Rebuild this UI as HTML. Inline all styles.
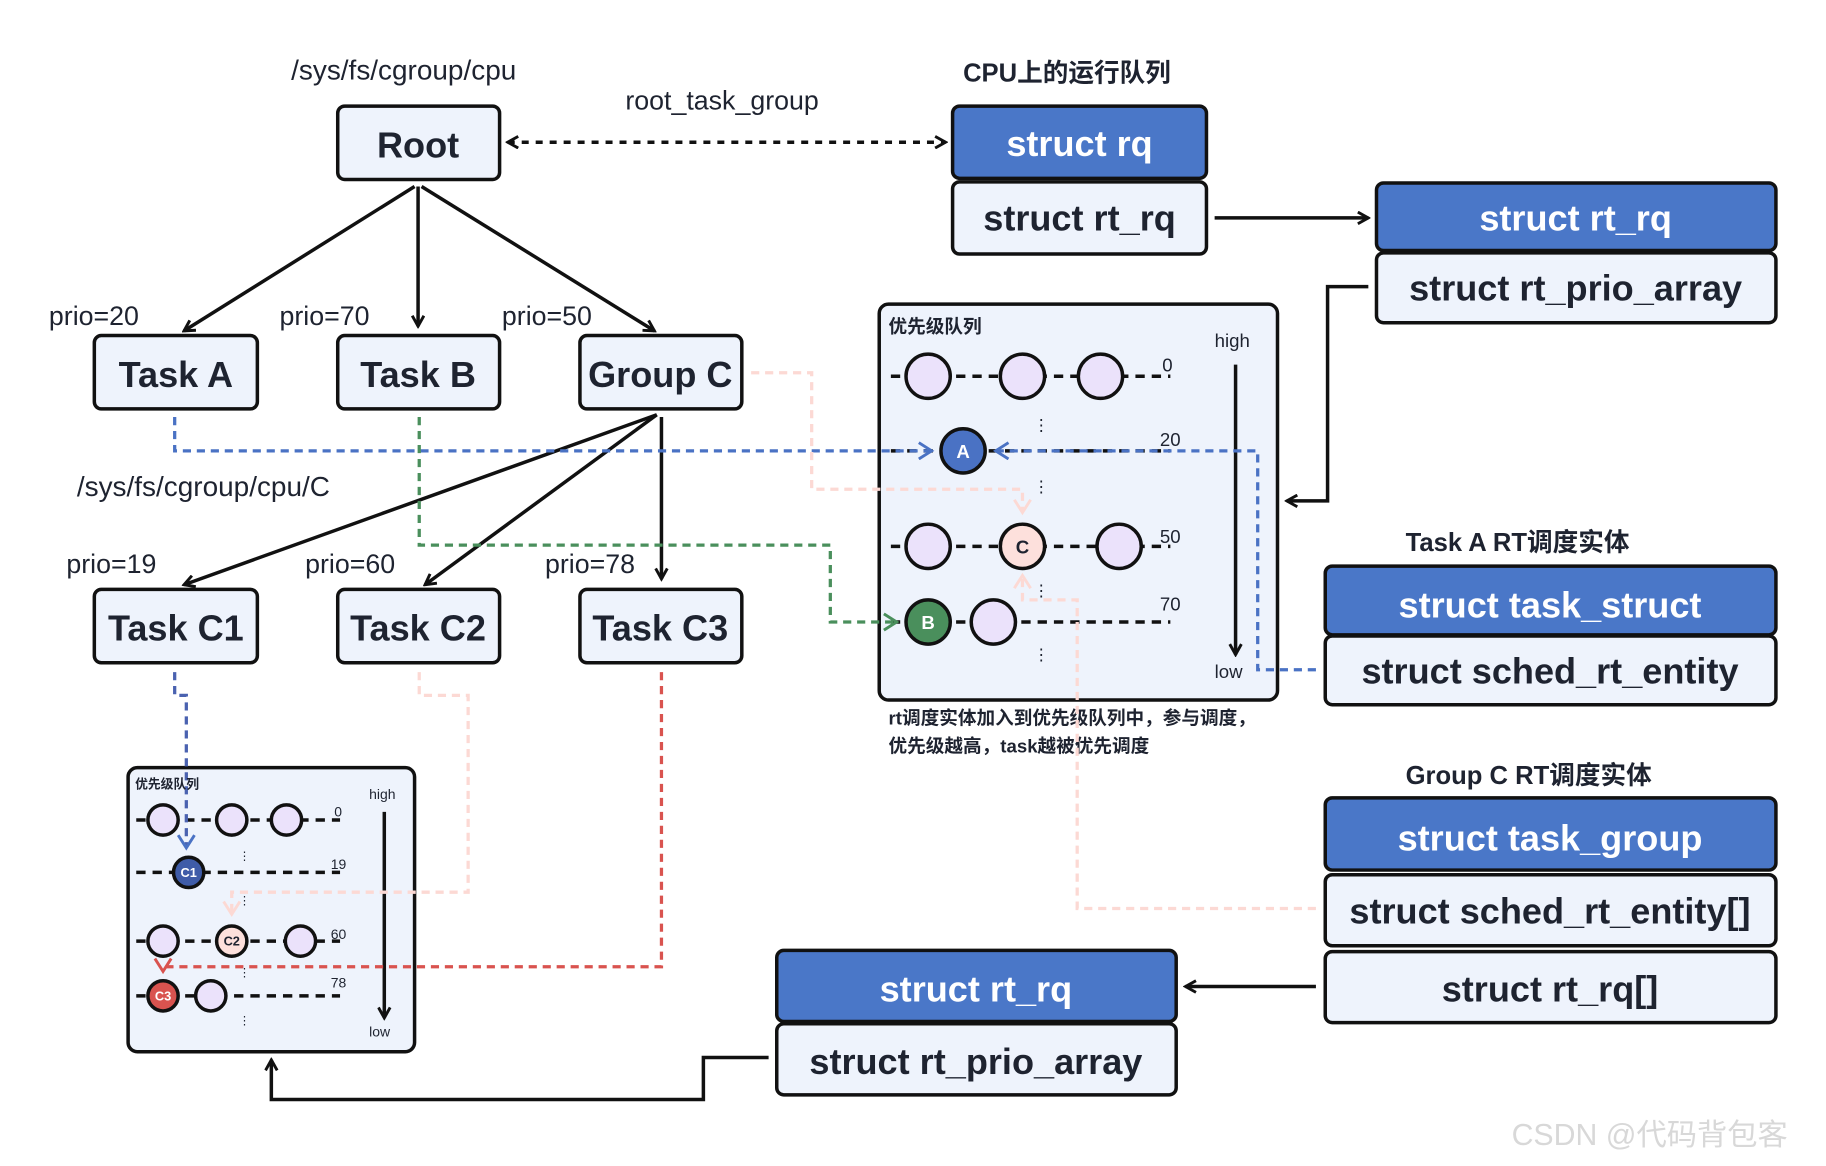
<!DOCTYPE html>
<html><head><meta charset="utf-8"><style>
html,body{margin:0;padding:0;background:#fff;}
svg{display:block}
text{font-family:"Liberation Sans","Noto Sans CJK SC",sans-serif;fill:#1e2330;}
</style></head><body>
<svg width="1826" height="1166" viewBox="0 0 1568 1001" xmlns="http://www.w3.org/2000/svg">
<defs>
<marker id="ab" markerWidth="12" markerHeight="12" refX="10" refY="6" orient="auto" markerUnits="userSpaceOnUse"><path d="M1,1 L10,6 L1,11" fill="none" stroke="#111" stroke-width="2.5"/></marker>
<marker id="abs" markerWidth="12" markerHeight="12" refX="10" refY="6" orient="auto-start-reverse" markerUnits="userSpaceOnUse"><path d="M1,1 L10,6 L1,11" fill="none" stroke="#111" stroke-width="2.5"/></marker>
<marker id="abl" markerWidth="16" markerHeight="16" refX="13" refY="8" orient="auto" markerUnits="userSpaceOnUse"><path d="M2,1 L13,8 L2,15" fill="none" stroke="#4a72c4" stroke-width="2.5"/></marker>
<marker id="agr" markerWidth="16" markerHeight="16" refX="13" refY="8" orient="auto" markerUnits="userSpaceOnUse"><path d="M2,1 L13,8 L2,15" fill="none" stroke="#4a8f5c" stroke-width="2.5"/></marker>
<marker id="apk" markerWidth="16" markerHeight="16" refX="13" refY="8" orient="auto" markerUnits="userSpaceOnUse"><path d="M2,1 L13,8 L2,15" fill="none" stroke="#fcd9d4" stroke-width="2.5"/></marker>
<marker id="ard" markerWidth="16" markerHeight="16" refX="13" refY="8" orient="auto" markerUnits="userSpaceOnUse"><path d="M2,1 L13,8 L2,15" fill="none" stroke="#d9534f" stroke-width="2.5"/></marker>
</defs>
<g font-weight="bold">
<text x="250" y="68" font-size="24" font-weight="normal">/sys/fs/cgroup/cpu</text>
<text x="537" y="94" font-size="23" font-weight="normal">root_task_group</text>
<text x="827" y="70" font-size="22">CPU上的运行队列</text>
</g>
<g stroke="#111" stroke-width="3" fill="#eef3fc">
<rect x="290" y="91" width="139" height="63" rx="6"/>
<rect x="81" y="288" width="140" height="63" rx="6"/>
<rect x="290" y="288" width="139" height="63" rx="6"/>
<rect x="498" y="288" width="139" height="63" rx="6"/>
<rect x="81" y="506" width="140" height="63" rx="6"/>
<rect x="290" y="506" width="139" height="63" rx="6"/>
<rect x="498" y="506" width="139" height="63" rx="6"/>
<rect x="818" y="91" width="218" height="62" rx="6" fill="#4a77c8"/>
<rect x="818" y="156" width="218" height="62" rx="6"/>
<rect x="1182" y="157" width="343" height="58" rx="6" fill="#4a77c8"/>
<rect x="1182" y="217" width="343" height="60" rx="6"/>
<rect x="1138" y="486" width="387" height="59" rx="6" fill="#4a77c8"/>
<rect x="1138" y="546" width="387" height="59" rx="6"/>
<rect x="1138" y="685" width="387" height="62" rx="6" fill="#4a77c8"/>
<rect x="1138" y="751" width="387" height="61" rx="6"/>
<rect x="1138" y="817" width="387" height="61" rx="6"/>
<rect x="667" y="816" width="343" height="61" rx="6" fill="#4a77c8"/>
<rect x="667" y="879" width="343" height="61" rx="6"/>
<rect x="755" y="261" width="342" height="340" rx="8"/>
<rect x="110" y="659" width="246" height="244" rx="8"/>
</g>
<g font-size="31" text-anchor="middle" font-weight="bold">
<text x="359" y="135">Root</text>
<text x="151" y="332">Task A</text>
<text x="359" y="332">Task B</text>
<text x="567" y="332">Group C</text>
<text x="151" y="550">Task C1</text>
<text x="359" y="550">Task C2</text>
<text x="567" y="550">Task C3</text>
<text x="927" y="134" style="fill:#fff">struct rq</text>
<text x="927" y="198">struct rt_rq</text>
<text x="1353" y="198" style="fill:#fff">struct rt_rq</text>
<text x="1353" y="258">struct rt_prio_array</text>
<text x="1331" y="530" style="fill:#fff">struct task_struct</text>
<text x="1331" y="587">struct sched_rt_entity</text>
<text x="1331" y="730" style="fill:#fff">struct task_group</text>
<text x="1331" y="793">struct sched_rt_entity[]</text>
<text x="1331" y="860">struct rt_rq[]</text>
<text x="838" y="860" style="fill:#fff">struct rt_rq</text>
<text x="838" y="922">struct rt_prio_array</text>
</g>
<g font-size="23">
<text x="42" y="279">prio=20</text>
<text x="240" y="279">prio=70</text>
<text x="431" y="279">prio=50</text>
<text x="57" y="492">prio=19</text>
<text x="262" y="492">prio=60</text>
<text x="468" y="492">prio=78</text>
<text x="66" y="426" font-size="24">/sys/fs/cgroup/cpu/C</text>
<text x="1207" y="473" font-weight="bold" font-size="22">Task A RT调度实体</text>
<text x="1207" y="673" font-weight="bold" font-size="22">Group C RT调度实体</text>
</g>
<g stroke="#111" stroke-width="3" fill="none">
<line x1="436" y1="122" x2="812" y2="122" stroke-dasharray="6,6" marker-end="url(#ab)" marker-start="url(#abs)"/>
<line x1="356" y1="160" x2="158" y2="284" marker-end="url(#ab)"/>
<line x1="359" y1="160" x2="359" y2="280" marker-end="url(#ab)"/>
<line x1="362" y1="160" x2="562" y2="284" marker-end="url(#ab)"/>
<line x1="564" y1="356" x2="158" y2="502" marker-end="url(#ab)"/>
<line x1="564" y1="356" x2="365" y2="502" marker-end="url(#ab)"/>
<line x1="568" y1="358" x2="568" y2="497" marker-end="url(#ab)"/>
<line x1="1043" y1="187" x2="1175" y2="187" marker-end="url(#ab)"/>
<polyline points="1175,246 1140,246 1140,430 1105,430" marker-end="url(#ab)"/>
<line x1="1130" y1="847" x2="1018" y2="847" marker-end="url(#ab)"/>
<polyline points="660,908 604,908 604,944 233,944 233,910" marker-end="url(#ab)"/>
<line x1="1061" y1="313" x2="1061" y2="562" marker-end="url(#ab)"/>
<line x1="330" y1="697" x2="330" y2="874" marker-end="url(#ab)"/>
</g>
<g font-size="16">
<text x="763" y="286" font-weight="bold">优先级队列</text>
<text x="1043" y="298">high</text>
<text x="1043" y="582">low</text>
<text x="998" y="319">0</text>
<text x="996" y="383">20</text>
<text x="996" y="466">50</text>
<text x="996" y="524">70</text>
<text x="763" y="622" font-weight="bold">rt调度实体加入到优先级队列中，参与调度，</text>
<text x="763" y="646" font-weight="bold">优先级越高，task越被优先调度</text>
</g>
<g stroke="#111" stroke-width="3" stroke-dasharray="8,6" fill="none">
<line x1="765" y1="323" x2="1005" y2="323"/>
<line x1="765" y1="387" x2="1005" y2="387"/>
<line x1="765" y1="469" x2="1005" y2="469"/>
<line x1="765" y1="534" x2="1005" y2="534"/>
<line x1="117" y1="704" x2="292" y2="704"/>
<line x1="117" y1="749" x2="292" y2="749"/>
<line x1="117" y1="808" x2="292" y2="808"/>
<line x1="117" y1="855" x2="292" y2="855"/>
</g>
<g fill="#888" font-size="14" text-anchor="middle">
<text x="894" y="370">⋮</text><text x="894" y="423">⋮</text><text x="894" y="512">⋮</text><text x="894" y="567">⋮</text>
<text x="210" y="738" font-size="10">⋮</text><text x="210" y="776" font-size="10">⋮</text><text x="210" y="838" font-size="10">⋮</text><text x="210" y="879" font-size="10">⋮</text>
</g>
<g fill="none" stroke-width="2.8" stroke-dasharray="7,5">
<polyline points="150,358 150,387 800,387" stroke="#4a72c4" marker-end="url(#abl)"/>
<polyline points="1130,575 1080,575 1080,387 855,387" stroke="#4a72c4" marker-end="url(#abl)"/>
<polyline points="360,358 360,468 713,468 713,534 770,534" stroke="#4a8f5c" marker-end="url(#agr)"/>
<polyline points="645,320 697,320 697,420 878,420 878,440" stroke="#fcd9d4" marker-end="url(#apk)"/>
<polyline points="1130,780 925,780 925,515 878,515 878,494" stroke="#fcd9d4" marker-end="url(#apk)"/>
<polyline points="150,577 150,597 160,597 160,728" stroke="#4a62b0" marker-end="url(#abl)"/>
<polyline points="360,577 360,597 402,597 402,766 199,766 199,785" stroke="#fcd9d4" marker-end="url(#apk)"/>
<polyline points="568,577 568,830 140,830 140,834" stroke="#d9534f" marker-end="url(#ard)"/>
</g>
<g stroke="#111" stroke-width="3" fill="#ebe2fb">
<circle cx="797" cy="323" r="19"/><circle cx="878" cy="323" r="19"/><circle cx="945" cy="323" r="19"/>
<circle cx="827" cy="387" r="19" fill="#4a72c4"/>
<circle cx="797" cy="469" r="19"/><circle cx="878" cy="469" r="19" fill="#fde0dc"/><circle cx="961" cy="469" r="19"/>
<circle cx="797" cy="534" r="19" fill="#4a8f5c"/><circle cx="853" cy="534" r="19"/>
<circle cx="140" cy="704" r="13"/><circle cx="199" cy="704" r="13"/><circle cx="246" cy="704" r="13"/>
<circle cx="162" cy="749" r="13" fill="#3f5ca8"/>
<circle cx="140" cy="808" r="13"/><circle cx="199" cy="808" r="13" fill="#fde0dc"/><circle cx="258" cy="808" r="13"/>
<circle cx="140" cy="855" r="13" fill="#d9534f"/><circle cx="181" cy="855" r="13"/>
</g>
<g font-size="16" font-weight="bold" text-anchor="middle">
<text x="827" y="393" style="fill:#fff">A</text>
<text x="878" y="475">C</text>
<text x="797" y="540" style="fill:#fff">B</text>
<text x="162" y="753" font-size="11" style="fill:#fff">C1</text>
<text x="199" y="812" font-size="11">C2</text>
<text x="140" y="859" font-size="11" style="fill:#fff">C3</text>
</g>
<g font-size="12">
<text x="116" y="677" font-weight="bold" font-size="11">优先级队列</text>
<text x="317" y="686">high</text>
<text x="317" y="890">low</text>
<text x="287" y="701">0</text>
<text x="284" y="746">19</text>
<text x="284" y="806">60</text>
<text x="284" y="848">78</text>
</g>
<text x="1298" y="983" font-size="26" style="fill:#d8d8d8">CSDN @代码背包客</text>
</svg>
</body></html>
